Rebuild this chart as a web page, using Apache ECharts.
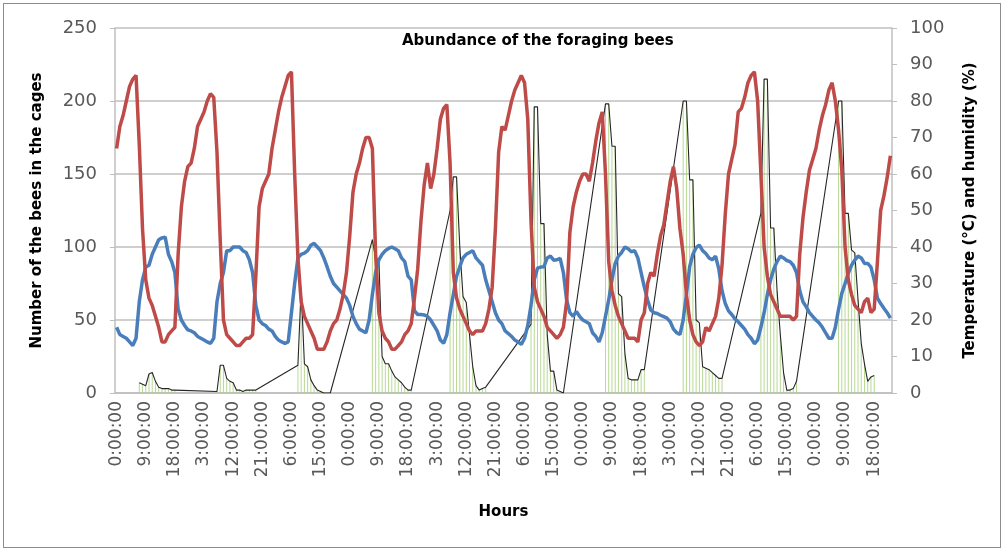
<!DOCTYPE html>
<html>
<head>
<meta charset="utf-8">
<title>Abundance of the foraging bees</title>
<script src="https://cdn.jsdelivr.net/npm/echarts@6/dist/echarts.min.js"></script>
<style>
  html, body { margin: 0; padding: 0; background: #fff; }
  .frame {
    position: absolute; left: 3px; top: 3px; width: 996px; height: 543px;
    border: 1px solid #8c8c8c;
  }
  #chart { position: absolute; left: 0; top: 0; width: 1006px; height: 552px; }
</style>
</head>
<body>
<div class="frame"></div>
<div id="chart"></div>
<script>
  // humidity (%) hourly, 10 days, right axis
  var humidity = [
    67, 73, 76, 80, 84, 86, 87, 68, 45, 31, 26, 24, 21, 18, 14, 14, 16, 17, 18, 38, 51, 58, 62, 63,
    67, 73, 75, 77, 80, 82, 81, 66, 42, 20, 16, 15, 14, 13, 13, 14, 15, 15, 16, 32, 51, 56, 58, 60,
    67, 72, 77, 81, 84, 87, 88, 60, 37, 25, 21, 19, 17, 15, 12, 12, 12, 14, 17, 19, 20, 23, 27, 33,
    43, 55, 60, 63, 67, 70, 70, 67, 38, 22, 17, 15, 14, 12, 12, 13, 14, 16, 17, 19, 26, 34, 47, 57,
    63, 56, 60, 67, 75, 78, 79, 63, 33, 26, 23, 21, 19, 17, 16, 17, 17, 17, 19, 23, 29, 45, 66, 73,
    72, 76, 80, 83, 85, 87, 85, 75, 47, 29, 25, 23, 21, 18, 17, 16, 15, 16, 18, 25, 44, 51, 55, 58,
    60, 60, 58, 63, 69, 74, 77, 60, 36, 28, 24, 21, 19, 17, 15, 15, 15, 14, 20, 22, 30, 33, 32, 38,
    43, 46, 52, 58, 62, 56, 45, 38, 27, 20, 16, 14, 13, 14, 18, 17, 19, 21, 26, 35, 49, 60, 64, 68,
    77, 78, 81, 85, 87, 88, 80, 60, 40, 32, 27, 25, 23, 21, 21, 21, 21, 20, 21, 38, 48, 55, 61, 64,
    67, 72, 76, 79, 83, 85, 80, 72, 61, 40, 31, 27, 24, 23, 22, 25, 26, 22, 23, 36, 50, 54, 59, 65
  ];

  // temperature (°C) hourly, right axis
  var temperature = [
    18, 16, 15.5, 15, 14, 13, 15, 25, 31, 34.5, 35, 38, 40, 42, 42.5, 42.7, 38, 36, 33, 23, 20, 18.5, 17.3, 17,
    16.5, 15.5, 15, 14.5, 14, 13.6, 15, 25, 30, 33, 39, 39, 40, 40, 40, 39, 38.5, 36.5, 33, 24, 20, 19, 18.5, 17.5,
    17, 15.5, 14.5, 14, 13.6, 14, 22, 30, 37, 38, 38.3, 39, 40.5, 41, 40, 39, 37, 34.6, 32, 30, 29, 28, 27, 26,
    24, 21, 19, 17.5, 17, 16.5, 20, 27, 33, 36.5, 38, 39, 39.6, 40, 39.5, 39, 37, 36, 32, 31, 22.5, 21.5, 21.5, 21.4,
    21, 20, 18.5, 17, 14.5, 13.6, 16, 22, 27, 32, 34.6, 37, 38, 38.5, 39, 37, 36, 35, 31, 28, 25, 22, 20, 19,
    17, 16.3, 15.5, 14.5, 14, 13.3, 15, 18.5, 24, 31, 34.2, 34.5, 34.6, 37, 37.5, 36.4, 36.5, 36.9, 33, 25.5, 22, 21, 22.3, 21,
    20, 19.5, 19, 16.5, 15.5, 14, 16.5, 21, 25.5, 31, 35.5, 37.5, 38.5, 40, 39.5, 38.7, 39, 37, 33, 29, 25.5, 22.7, 22, 21.8,
    21.3, 20.9, 20.5, 19.5, 17.5, 16.5, 16, 20, 27, 34.6, 38, 39.8, 40.5, 39, 38.2, 37, 36.5, 37.5, 34, 28, 24.5, 22.5, 21.5, 20.3,
    19.5, 18.5, 17.5, 16, 15, 13.5, 14.5, 18, 22, 27, 31, 34, 36, 37.5, 37, 36.3, 36, 35, 33, 28, 25, 23.6, 22, 21,
    20, 19.2, 18, 16.5, 15, 15, 18, 23, 27.3, 30, 32.8, 35, 36.4, 37.5, 37, 35.5, 35.5, 34.5, 31, 26, 24.5, 23.2, 22, 20.5
  ];

  // foraging bees counted in the cages (hour index from start, count)
  var beeHours = [
    7, 8, 9, 10, 11, 12, 13, 14, 15, 16, 17, 18,
    31, 32, 33, 34, 35, 36, 37, 38, 39, 40, 41, 42, 43,
    56, 57, 58, 59, 60, 61, 62, 63, 64, 65, 66,
    79, 80, 81, 82, 83, 84, 85, 86, 87, 88, 89, 90, 91,
    103, 104, 105, 106, 107, 108, 109, 110, 111, 112, 113, 114,
    128, 129, 130, 131, 132, 133, 134, 135, 136, 137, 138,
    151, 152, 153, 154, 155, 156, 157, 158, 159, 160, 161, 162, 163,
    175, 176, 177, 178, 179, 180, 181, 182, 183, 184, 185, 186, 187,
    199, 200, 201, 202, 203, 204, 205, 206, 207, 208, 209, 210,
    223, 224, 225, 226, 227, 228, 229, 230, 231, 232, 233, 234
  ];
  var beeCounts = [
    7, 6, 5, 13, 14, 8, 4, 3, 3, 3, 2, 2,
    1, 19, 19, 10, 8, 7, 2, 2, 1, 2, 2, 2, 2,
    19, 72, 20, 18, 9, 5, 2, 1, 0, 0, 0,
    105, 92, 92, 25, 20, 20, 15, 11, 9, 7, 4, 2, 2,
    125, 148, 148, 100, 66, 62, 40, 18, 5, 2, 3, 4,
    47, 196, 196, 116, 116, 40, 15, 15, 2, 1, 0,
    198, 198, 169, 169, 68, 66, 27, 10, 9, 9, 9, 16, 16,
    200, 200, 146, 146, 50, 48, 18, 17, 16, 14, 12, 10, 10,
    123, 215, 215, 113, 113, 70, 40, 14, 2, 2, 3, 8,
    200, 200, 123, 123, 98, 96, 64, 34, 20, 8, 11, 12
  ];

  var beesTicks = [0, 50, 100, 150, 200, 250];
  var climateTicks = [0, 10, 20, 30, 40, 50, 60, 70, 80, 90, 100];

  // hour labels 0:00:00 ... 23:00:00, repeated for every day
  var hourLabels = [];
  for (var i = 0; i < humidity.length; i++) {
    hourLabels.push((i % 24) + ':00:00');
  }

  var beePoints = beeHours.map(function (h, k) { return [h, beeCounts[k]]; });

  var axisFont = 'DejaVu Sans';
  var grey = '#bfbfbf';

  var myChart = echarts.init(document.getElementById('chart'));
  var option = {
    animation: false,
    title: {
      text: 'Abundance of the foraging bees',
      left: 397,
      top: 29,
      textStyle: { fontFamily: axisFont, fontSize: 15, fontWeight: 'bold', color: '#000' }
    },
    grid: { left: 115, right: 114, top: 28, bottom: 159 },
    xAxis: {
      type: 'category',
      data: hourLabels,
      boundaryGap: true,
      name: 'Hours',
      nameLocation: 'middle',
      nameGap: 112,
      nameTextStyle: { fontFamily: axisFont, fontSize: 15, fontWeight: 'bold', color: '#000' },
      axisLine: { lineStyle: { color: grey, width: 1.5 } },
      axisTick: { interval: 0, length: 5, lineStyle: { color: grey } },
      axisLabel: {
        interval: 8, rotate: 90, margin: 8,
        fontFamily: axisFont, fontSize: 17, color: '#595959'
      },
      splitLine: { show: false }
    },
    yAxis: [
      {
        type: 'value',
        min: beesTicks[0], max: beesTicks[beesTicks.length - 1], interval: 50,
        name: 'Number of the bees in the cages',
        nameLocation: 'middle',
        nameRotate: 90,
        nameGap: 70,
        nameTextStyle: { fontFamily: axisFont, fontSize: 15, fontWeight: 'bold', color: '#000' },
        axisLine: { show: true, lineStyle: { color: grey, width: 1.5 } },
        axisTick: { show: true, length: 5, lineStyle: { color: grey } },
        axisLabel: { margin: 18, fontFamily: axisFont, fontSize: 18, color: '#595959' },
        splitLine: { lineStyle: { color: grey, width: 1.5 } }
      },
      {
        type: 'value',
        min: climateTicks[0], max: climateTicks[climateTicks.length - 1], interval: 10,
        name: 'Temperature (°C) and humidity (%)',
        nameLocation: 'middle',
        nameRotate: 90,
        nameGap: 71,
        nameTextStyle: { fontFamily: axisFont, fontSize: 15, fontWeight: 'bold', color: '#000' },
        axisLine: { show: true, lineStyle: { color: grey, width: 1.5 } },
        axisTick: { show: true, length: 5, lineStyle: { color: grey } },
        axisLabel: { margin: 18, fontFamily: axisFont, fontSize: 18, color: '#595959' },
        splitLine: { show: false }
      }
    ],
    series: [
      {
        name: 'Bees (columns)',
        type: 'bar',
        yAxisIndex: 0,
        barWidth: 1,
        itemStyle: { color: '#a6cf78', opacity: 0.8 },
        data: beePoints
      },
      {
        name: 'Bees',
        type: 'line',
        yAxisIndex: 0,
        showSymbol: false,
        lineStyle: { color: '#262626', width: 1.1 },
        data: beePoints
      },
      {
        name: 'Temperature',
        type: 'line',
        yAxisIndex: 1,
        showSymbol: false,
        lineStyle: { color: '#4a7ebb', width: 3.5 },
        data: temperature
      },
      {
        name: 'Humidity',
        type: 'line',
        yAxisIndex: 1,
        showSymbol: false,
        lineStyle: { color: '#be4b48', width: 3.5 },
        data: humidity
      }
    ]
  };
  myChart.setOption(option);
</script>
</body>
</html>
